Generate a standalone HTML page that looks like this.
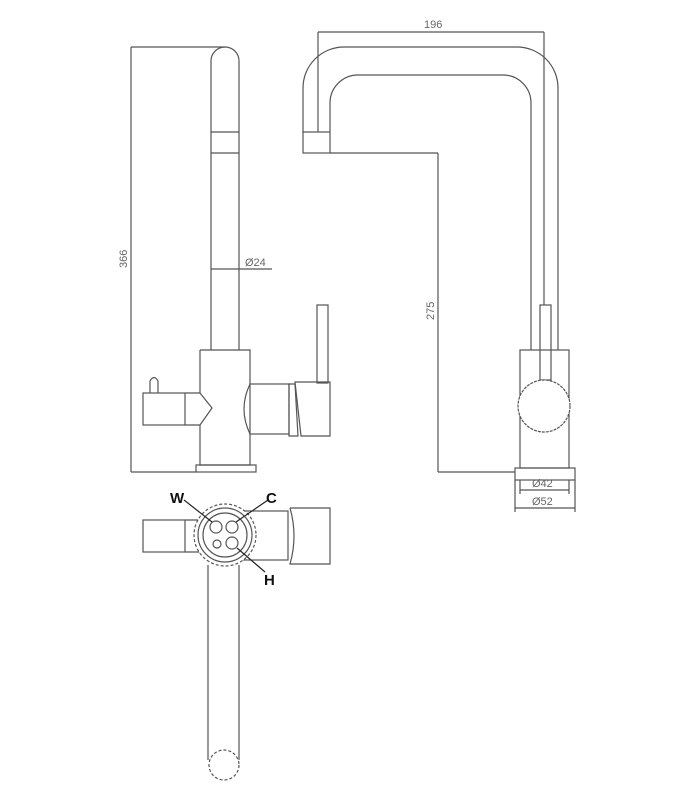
<!DOCTYPE html>
<html><head><style>body{margin:0;background:#fff}svg{display:block}</style></head><body>
<svg width="695" height="799" viewBox="0 0 695 799" xmlns="http://www.w3.org/2000/svg" fill="none" stroke="#555" stroke-width="1.2" font-family="Liberation Sans, sans-serif">
<!-- LEFT VIEW -->
<path d="M211 350 V61 A14 14 0 0 1 239 61 V350"/>
<line x1="211" y1="132" x2="239" y2="132"/><line x1="211" y1="153" x2="239" y2="153"/>
<!-- 366 dim -->
<line x1="131" y1="47" x2="131" y2="472"/><line x1="131" y1="47" x2="225" y2="47"/><line x1="131" y1="472" x2="196" y2="472"/>
<text x="0" y="0" transform="translate(127 268) rotate(-90)" fill="#666" stroke="none" font-size="11">366</text>
<line x1="211" y1="269" x2="272" y2="269"/>
<text x="245" y="266" fill="#666" stroke="none" font-size="11">Ø24</text>
<!-- body -->
<path d="M200 350 H250 V384 M250 434 V465 H200 V425 M200 393 V350"/>
<path d="M250 384 Q238 409 250 434"/>
<rect x="143" y="393" width="42" height="32"/>
<path d="M185 393 H200 L212 408 L200 425 H185"/>
<path d="M150 393 V381 Q154 374 158 381 V393"/>
<rect x="250" y="384" width="39" height="50"/>
<path d="M289 384 H295 L298 436 H289 Z"/>
<path d="M295 382 H330 V436 H301 Z"/>
<rect x="317" y="305" width="11" height="78"/>
<rect x="196" y="465" width="60" height="7"/>
<!-- TOP VIEW -->
<rect x="143" y="520" width="42" height="32"/>
<path d="M185 520 H200 M185 552 H200"/>
<rect x="225" y="511" width="63" height="49"/>
<path d="M290 508 H330 V564 H290 Q298 536 290 508"/>
<circle cx="225" cy="535" r="31" fill="#fff" stroke-dasharray="3 2"/>
<circle cx="225" cy="535" r="27"/>
<circle cx="225" cy="535" r="22"/>
<circle cx="216" cy="527" r="6"/><circle cx="232" cy="527" r="6"/>
<circle cx="217" cy="544" r="4"/><circle cx="232" cy="543" r="6"/>
<path d="M208 565 V760 M239 565 V760"/>
<circle cx="224" cy="765" r="15" stroke-dasharray="3 2"/>
<line x1="184" y1="500" x2="212" y2="522" stroke="#222"/>
<line x1="268" y1="500" x2="236" y2="522" stroke="#222"/>
<line x1="265" y1="572" x2="237" y2="548" stroke="#222"/>
<g fill="#111" stroke="none" font-weight="bold" font-size="15">
<text x="170" y="503">W</text><text x="266" y="503">C</text><text x="264" y="585">H</text></g>
<!-- RIGHT VIEW -->
<path d="M303 132 V88 A41 41 0 0 1 344 47 H517 A41 41 0 0 1 558 88 V350"/>
<path d="M330 132 V103 A28 28 0 0 1 358 75 H503 A28 28 0 0 1 531 103 V350"/>
<rect x="303" y="132" width="27" height="21"/>
<line x1="330" y1="153" x2="438" y2="153"/>
<line x1="438" y1="153" x2="438" y2="472"/><line x1="438" y1="472" x2="515" y2="472"/>
<text x="0" y="0" transform="translate(434 320) rotate(-90)" fill="#666" stroke="none" font-size="11">275</text>
<line x1="318" y1="32" x2="544" y2="32"/><line x1="318" y1="32" x2="318" y2="132"/><line x1="544" y1="32" x2="544" y2="305"/>
<text x="424" y="28" fill="#666" stroke="none" font-size="11">196</text>
<rect x="540" y="305" width="11" height="75"/>
<rect x="520" y="350" width="49" height="118"/>
<circle cx="544" cy="406" r="26" fill="#fff" stroke-dasharray="3 1"/>
<rect x="515" y="468" width="60" height="12"/>
<path d="M520 480 V494 M569 480 V494 M515 480 V512 M575 480 V512"/>
<line x1="520" y1="490" x2="569" y2="490"/><line x1="515" y1="508" x2="575" y2="508"/>
<g fill="#666" stroke="none" font-size="11"><text x="532" y="487">Ø42</text><text x="532" y="505">Ø52</text></g>
</svg>
</body></html>
